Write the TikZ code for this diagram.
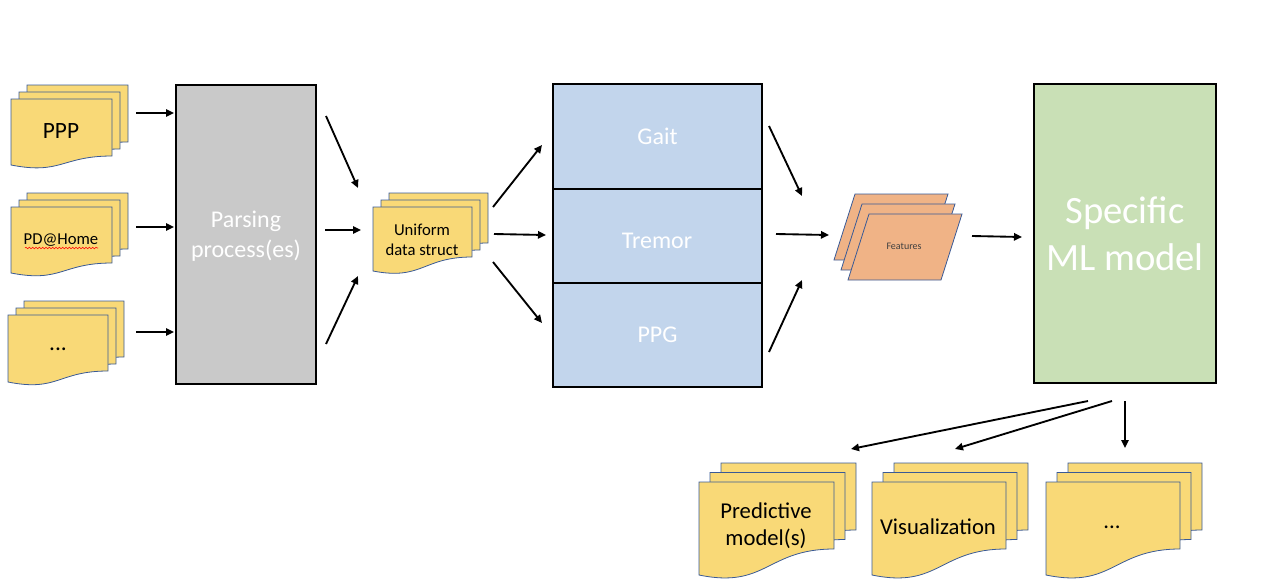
\documentclass[tikz,border=0pt]{standalone}
\usepackage{fontspec}
\setmainfont{Carlito}
\usetikzlibrary{arrows.meta,decorations.pathmorphing}
\definecolor{docfill}{HTML}{F9D977}
\definecolor{docline}{HTML}{3A5A96}
\definecolor{grayfill}{HTML}{C9C9C9}
\definecolor{bluefill}{HTML}{C2D5EC}
\definecolor{greenfill}{HTML}{C9E0B6}
\definecolor{orangefill}{HTML}{F0B386}
\tikzset{
  docsty/.style={fill=docfill,draw=docline,line width=0.6pt},
  parasty/.style={fill=orangefill,draw=docline,line width=0.6pt},
  boxsty/.style={draw=black,line width=0.8pt,inner sep=0pt,text=white,align=center},
  arr/.style={line width=1.4pt,-{Triangle[length=6pt,width=5.5pt]}},
  doctext/.style={text=black,align=center,inner sep=0pt}
}
% x y w hr hl
\newcommand\mdoc[5]{%
  \filldraw[docsty] (#1,#2) -- ({#1+#3},#2) -- ({#1+#3},{#2+#4})
    .. controls ({#1+0.5*#3},{#2+#4}) and ({#1+0.5*#3},{#2+1.15*#5}) .. (#1,{#2+#5}) -- cycle;}
% x y w hr hl dx dy
\newcommand\mgroup[7]{%
  \mdoc{#1+2*#6}{#2+2*#7}{#3}{#4}{#5}%
  \mdoc{#1+#6}{#2+#7}{#3}{#4}{#5}%
  \mdoc{#1}{#2}{#3}{#4}{#5}}
% bottom-left x y
\newcommand\mpara[2]{%
  \filldraw[parasty] (#1,#2) -- ({#1+21},{#2-66}) -- ({#1+114},{#2-66}) -- ({#1+93},#2) -- cycle;}
\begin{document}
\begin{tikzpicture}[x=0.75pt,y=-0.75pt]
\useasboundingbox (0,0) rectangle (1279,586);

% input documents
\mgroup{11}{99}{101}{57}{66}{8}{-7}
\mgroup{11}{207}{101}{56}{66}{8}{-7}
\mgroup{8}{315}{100}{56}{67}{8}{-7}
\node[doctext,font=\fontsize{17.5}{21}\selectfont] (ppp) at (61,131) {PPP};
\node[doctext,font=\fontsize{12.5}{15}\selectfont] (pdh) at (61,240) {PD@Home};
\draw[red,line width=0.4pt,decorate,decoration={snake,amplitude=0.6pt,segment length=2.5pt}] (25,248) -- (98,248);
\node[doctext,font=\fontsize{17.5}{21}\selectfont] (dots1) at (58,349) {...};

% parsing
\node[boxsty,fill=grayfill,minimum width=105pt,minimum height=224.25pt] (parse) at (246,234.5) {};
\node[boxsty,draw=none,font=\fontsize{18}{22.5}\selectfont] (parsetext) at (246,236) {Parsing\\process(es)};

% uniform data struct
\mgroup{373}{207}{99}{50}{64}{8}{-7}
\node[doctext,font=\fontsize{12.5}{15}\selectfont] (uni) at (422,240) {Uniform\\data struct};

% blue stack
\node[boxsty,fill=bluefill,minimum width=156.75pt,minimum height=78.75pt,font=\fontsize{18}{22.5}\selectfont] (gait) at (657.5,136.5) {Gait};
\node[boxsty,fill=bluefill,minimum width=156.75pt,minimum height=70.5pt] (tremor) at (657.5,236) {};
\node[boxsty,draw=none,font=\fontsize{18}{22.5}\selectfont] (tremortext) at (657,241) {Tremor};
\node[boxsty,fill=bluefill,minimum width=156.75pt,minimum height=78pt,font=\fontsize{18}{22.5}\selectfont] (ppg) at (657.5,335) {PPG};

% features
\mpara{834}{260}
\mpara{841}{270}
\mpara{848}{280}
\node[doctext,text=black!75,font=\fontsize{7.5}{9}\selectfont] (feat) at (904,246) {Features};

% ML model
\node[boxsty,fill=greenfill,minimum width=136.5pt,minimum height=224.25pt,font=\fontsize{29}{35}\selectfont] (ml) at (1125,233.5) {Specific\\ML model};

% outputs
\mgroup{699}{482}{135}{67}{93}{11}{-9.5}
\mgroup{872}{482}{134}{67}{93}{11}{-9.5}
\mgroup{1046}{482}{134}{67}{93}{11}{-9.5}
\node[doctext,font=\fontsize{17}{20.5}\selectfont] (pred) at (766,526) {Predictive\\model(s)};
\node[doctext,font=\fontsize{17}{20.5}\selectfont] (vis) at (938,527) {Visualization};
\node[doctext,font=\fontsize{17}{20.5}\selectfont] (dots2) at (1112,527) {...};

% arrow coordinates
\coordinate (l1a) at (136,113); \coordinate (l1b) at (174,113);
\coordinate (l2a) at (136,227); \coordinate (l2b) at (174,227);
\coordinate (l3a) at (136,332); \coordinate (l3b) at (174,332);
\coordinate (p1a) at (326,116); \coordinate (p1b) at (358,188);
\coordinate (p2a) at (325,230); \coordinate (p2b) at (361,230);
\coordinate (p3a) at (326,344); \coordinate (p3b) at (358,276);
\coordinate (u1a) at (493,207); \coordinate (u1b) at (542,145);
\coordinate (u2a) at (494,234); \coordinate (u2b) at (546,235);
\coordinate (u3a) at (493,262); \coordinate (u3b) at (542,323);
\coordinate (b1a) at (769,126); \coordinate (b1b) at (802,196);
\coordinate (b2a) at (776,234); \coordinate (b2b) at (829,235);
\coordinate (b3a) at (769,352); \coordinate (b3b) at (802,280);
\coordinate (fa) at (972,236); \coordinate (fb) at (1022,237);
\coordinate (g1a) at (1088,401); \coordinate (g1b) at (851,449);
\coordinate (g2a) at (1112,401); \coordinate (g2b) at (955,449);
\coordinate (g3a) at (1125,401); \coordinate (g3b) at (1125,448);

\foreach \n in {l1,l2,l3,p1,p2,p3,u1,u2,u3,b1,b2,b3,f,g1,g2,g3}
  \draw[arr] (\n a) -- (\n b);
\end{tikzpicture}
\end{document}
